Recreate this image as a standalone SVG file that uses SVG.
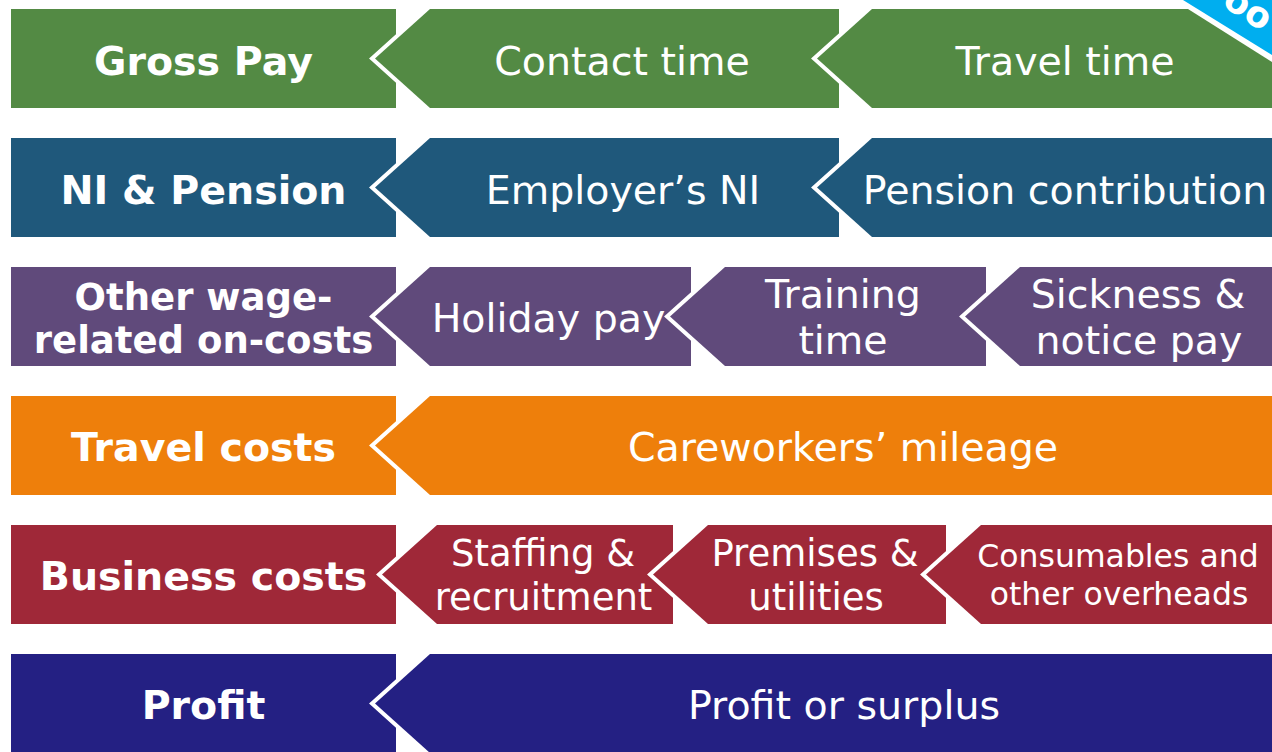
<svg xmlns="http://www.w3.org/2000/svg" width="1272" height="752" viewBox="0 0 1272 752">
<style>
.lbl{font-family:"DejaVu Sans","Liberation Sans",sans-serif;font-weight:bold;font-size:39.5px;fill:#fff;text-anchor:middle}
.txt{font-family:"DejaVu Sans","Liberation Sans",sans-serif;font-size:39.5px;fill:#fff;text-anchor:middle}
.chev{stroke:#fff;stroke-width:8;paint-order:stroke;stroke-linejoin:miter}
.g{fill:#538A44}.n{fill:#1F587B}.p{fill:#604A7B}.o{fill:#EE7F0B}.r{fill:#9F2838}.b{fill:#242083}
</style>
<rect width="1272" height="752" fill="#fff"/>
<!-- Row 1 -->
<g id="gross-pay"><rect class="g" x="11" y="9" width="385" height="99"/><text class="lbl" x="203.5" y="75">Gross Pay</text></g>
<g id="contact-time"><polygon class="g chev" points="430,9 839,9 839,108 430,108 375,58.5"/><text class="txt" x="622" y="75">Contact time</text></g>
<g id="travel-time"><polygon class="g chev" points="872,9 1188,9 1272,62 1272,108 872,108 817,58.5"/><text class="txt" x="1065" y="75">Travel time</text></g>
<g id="ribbon"><polygon fill="#00AEEF" points="1183,0 1272,0 1272,55"/><text x="0" y="0" transform="translate(1221,5) rotate(33)" style="font-family:'DejaVu Sans','Liberation Sans',sans-serif;font-weight:bold;font-size:36px;fill:#fff">oo</text></g>
<!-- Row 2 -->
<g id="ni-pension"><rect class="n" x="11" y="138" width="385" height="99"/><text class="lbl" x="203.5" y="204">NI &amp; Pension</text></g>
<g id="employers-ni"><polygon class="n chev" points="430,138 839,138 839,237 430,237 375,187.5"/><text class="txt" x="623" y="204">Employer’s NI</text></g>
<g id="pension-contribution"><polygon class="n chev" points="872,138 1272,138 1272,237 872,237 817,187.5"/><text class="txt" x="1065" y="204">Pension contribution</text></g>
<!-- Row 3 -->
<g id="other-oncosts"><rect class="p" x="11" y="267" width="385" height="99"/><text class="lbl" style="font-size:37px" x="203.5" y="310">Other wage-</text><text class="lbl" style="font-size:37px" x="203.5" y="353">related on-costs</text></g>
<g id="holiday-pay"><polygon class="p chev" points="430,267 691,267 691,366 430,366 375,316.5"/><text class="txt" x="548.5" y="332">Holiday pay</text></g>
<g id="training-time"><polygon class="p chev" points="725,267 986,267 986,366 725,366 670,316.5"/><text class="txt" x="843" y="308">Training</text><text class="txt" x="843" y="354">time</text></g>
<g id="sickness-notice"><polygon class="p chev" points="1020,267 1272,267 1272,366 1020,366 965,316.5"/><text class="txt" x="1138" y="308">Sickness &amp;</text><text class="txt" x="1139" y="354">notice pay</text></g>
<!-- Row 4 -->
<g id="travel-costs"><rect class="o" x="11" y="396" width="385" height="99"/><text class="lbl" x="203.5" y="461">Travel costs</text></g>
<g id="mileage"><polygon class="o chev" points="430,396 1272,396 1272,495 430,495 375,445.5"/><text class="txt" x="843" y="461">Careworkers’ mileage</text></g>
<!-- Row 5 -->
<g id="business-costs"><rect class="r" x="11" y="525" width="385" height="99"/><text class="lbl" x="203.5" y="590">Business costs</text></g>
<g id="staffing"><polygon class="r chev" points="437,525 673,525 673,624 437,624 382,574.5"/><text class="txt" style="font-size:37px" x="543" y="566">Staffing &amp;</text><text class="txt" style="font-size:37px" x="543.5" y="610">recruitment</text></g>
<g id="premises"><polygon class="r chev" points="708,525 946,525 946,624 708,624 653,574.5"/><text class="txt" style="font-size:37px" x="815" y="566">Premises &amp;</text><text class="txt" style="font-size:37px" x="816" y="610">utilities</text></g>
<g id="consumables"><polygon class="r chev" points="981,525 1272,525 1272,624 981,624 926,574.5"/><text class="txt" style="font-size:31.5px" x="1118" y="567">Consumables and</text><text class="txt" style="font-size:31.5px" x="1119" y="605">other overheads</text></g>
<!-- Row 6 -->
<g id="profit"><rect class="b" x="11" y="654" width="385" height="99"/><text class="lbl" x="203.5" y="719">Profit</text></g>
<g id="profit-surplus"><polygon class="b chev" points="430,654 1272,654 1272,753 430,753 375,703.5"/><text class="txt" x="844" y="719">Profit or surplus</text></g>
<g id="connectors"/>
</svg>
